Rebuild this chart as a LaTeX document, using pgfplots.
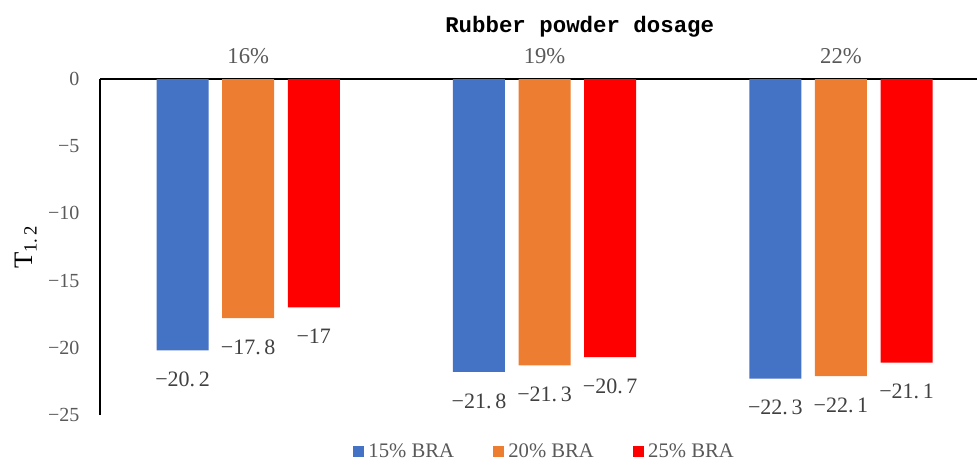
\documentclass[border=0pt]{standalone}
\usepackage{fontspec}
\setmainfont{Liberation Serif}
\newfontfamily\monofont{Liberation Mono}
\usepackage{pgfplots}
\pgfplotsset{compat=1.18}
\definecolor{cblue}{HTML}{4472C4}
\definecolor{corange}{HTML}{ED7D31}
\definecolor{cred}{HTML}{FF0000}
\definecolor{tgray}{HTML}{595959}
\definecolor{lgray}{HTML}{404040}
\begin{document}
\begin{tikzpicture}
\begin{axis}[
  scale only axis, width=657.75pt, height=252pt,
  xmin=-0.5, xmax=2.459, ymin=-25, ymax=0,
  axis x line*=top, axis y line*=left,
  axis line style={black, line width=1.1pt},
  ybar=10.2pt, bar width=39pt,
  xtick={0,1,2}, xticklabels={16\%,19\%,22\%},
  major tick length=0pt,
  xticklabel style={font=\fontsize{17}{17}\selectfont, text=tgray, yshift=8pt},
  ytick={-25,-20,...,0},
  yticklabels={−25,−20,−15,−10,−5,0},
  yticklabel style={font=\fontsize{15}{15}\selectfont, text=tgray, xshift=-12pt},
  ylabel={T\textsubscript{1.\,2}},
  ylabel style={at={(axis description cs:-0.0845,0.5)}, anchor=center, font=\fontsize{20}{20}\selectfont},
  title={Rubber powder dosage},
  title style={at={(axis description cs:0.547,1)}, anchor=center, yshift=33pt, font=\monofont\fontsize{16.8}{16.8}\selectfont\bfseries},
  legend columns=3,
  legend style={at={(axis description cs:0.507,0)}, anchor=center, yshift=-27.75pt, draw=none, font=\fontsize{15.5}{15.5}\selectfont, text=tgray, /tikz/every even column/.append style={column sep=27pt}},
  point meta=explicit symbolic,
  nodes near coords,
  nodes near coords align={center},
  every node near coord/.append style={font=\fontsize{16.5}{16.5}\selectfont, text=lgray, yshift=-21.75pt},
]
\addplot[fill=cblue, draw=none, legend image code/.code={\fill[cblue] (0pt,-4pt) rectangle (8.25pt,4.25pt);}] coordinates {(0,-20.2) [−20.\,2] (1,-21.8) [−21.\,8] (2,-22.3) [−22.\,3]};
\addplot[fill=corange, draw=none, legend image code/.code={\fill[corange] (0pt,-4pt) rectangle (8.25pt,4.25pt);}] coordinates {(0,-17.8) [−17.\,8] (1,-21.3) [−21.\,3] (2,-22.1) [−22.\,1]};
\addplot[fill=cred, draw=none, legend image code/.code={\fill[cred] (0pt,-4pt) rectangle (8.25pt,4.25pt);}] coordinates {(0,-17) [−17] (1,-20.7) [−20.\,7] (2,-21.1) [−21.\,1]};
\legend{\hspace{1.5pt}15\%\ BRA, \hspace{1.5pt}20\%\ BRA, \hspace{1.5pt}25\%\ BRA}
\end{axis}
\pgfresetboundingbox
\path[use as bounding box] ([xshift=-75pt,yshift=-37.5pt]current axis.south west) rectangle ([xshift=0.75pt,yshift=59.25pt]current axis.north east);
\end{tikzpicture}
\end{document}
